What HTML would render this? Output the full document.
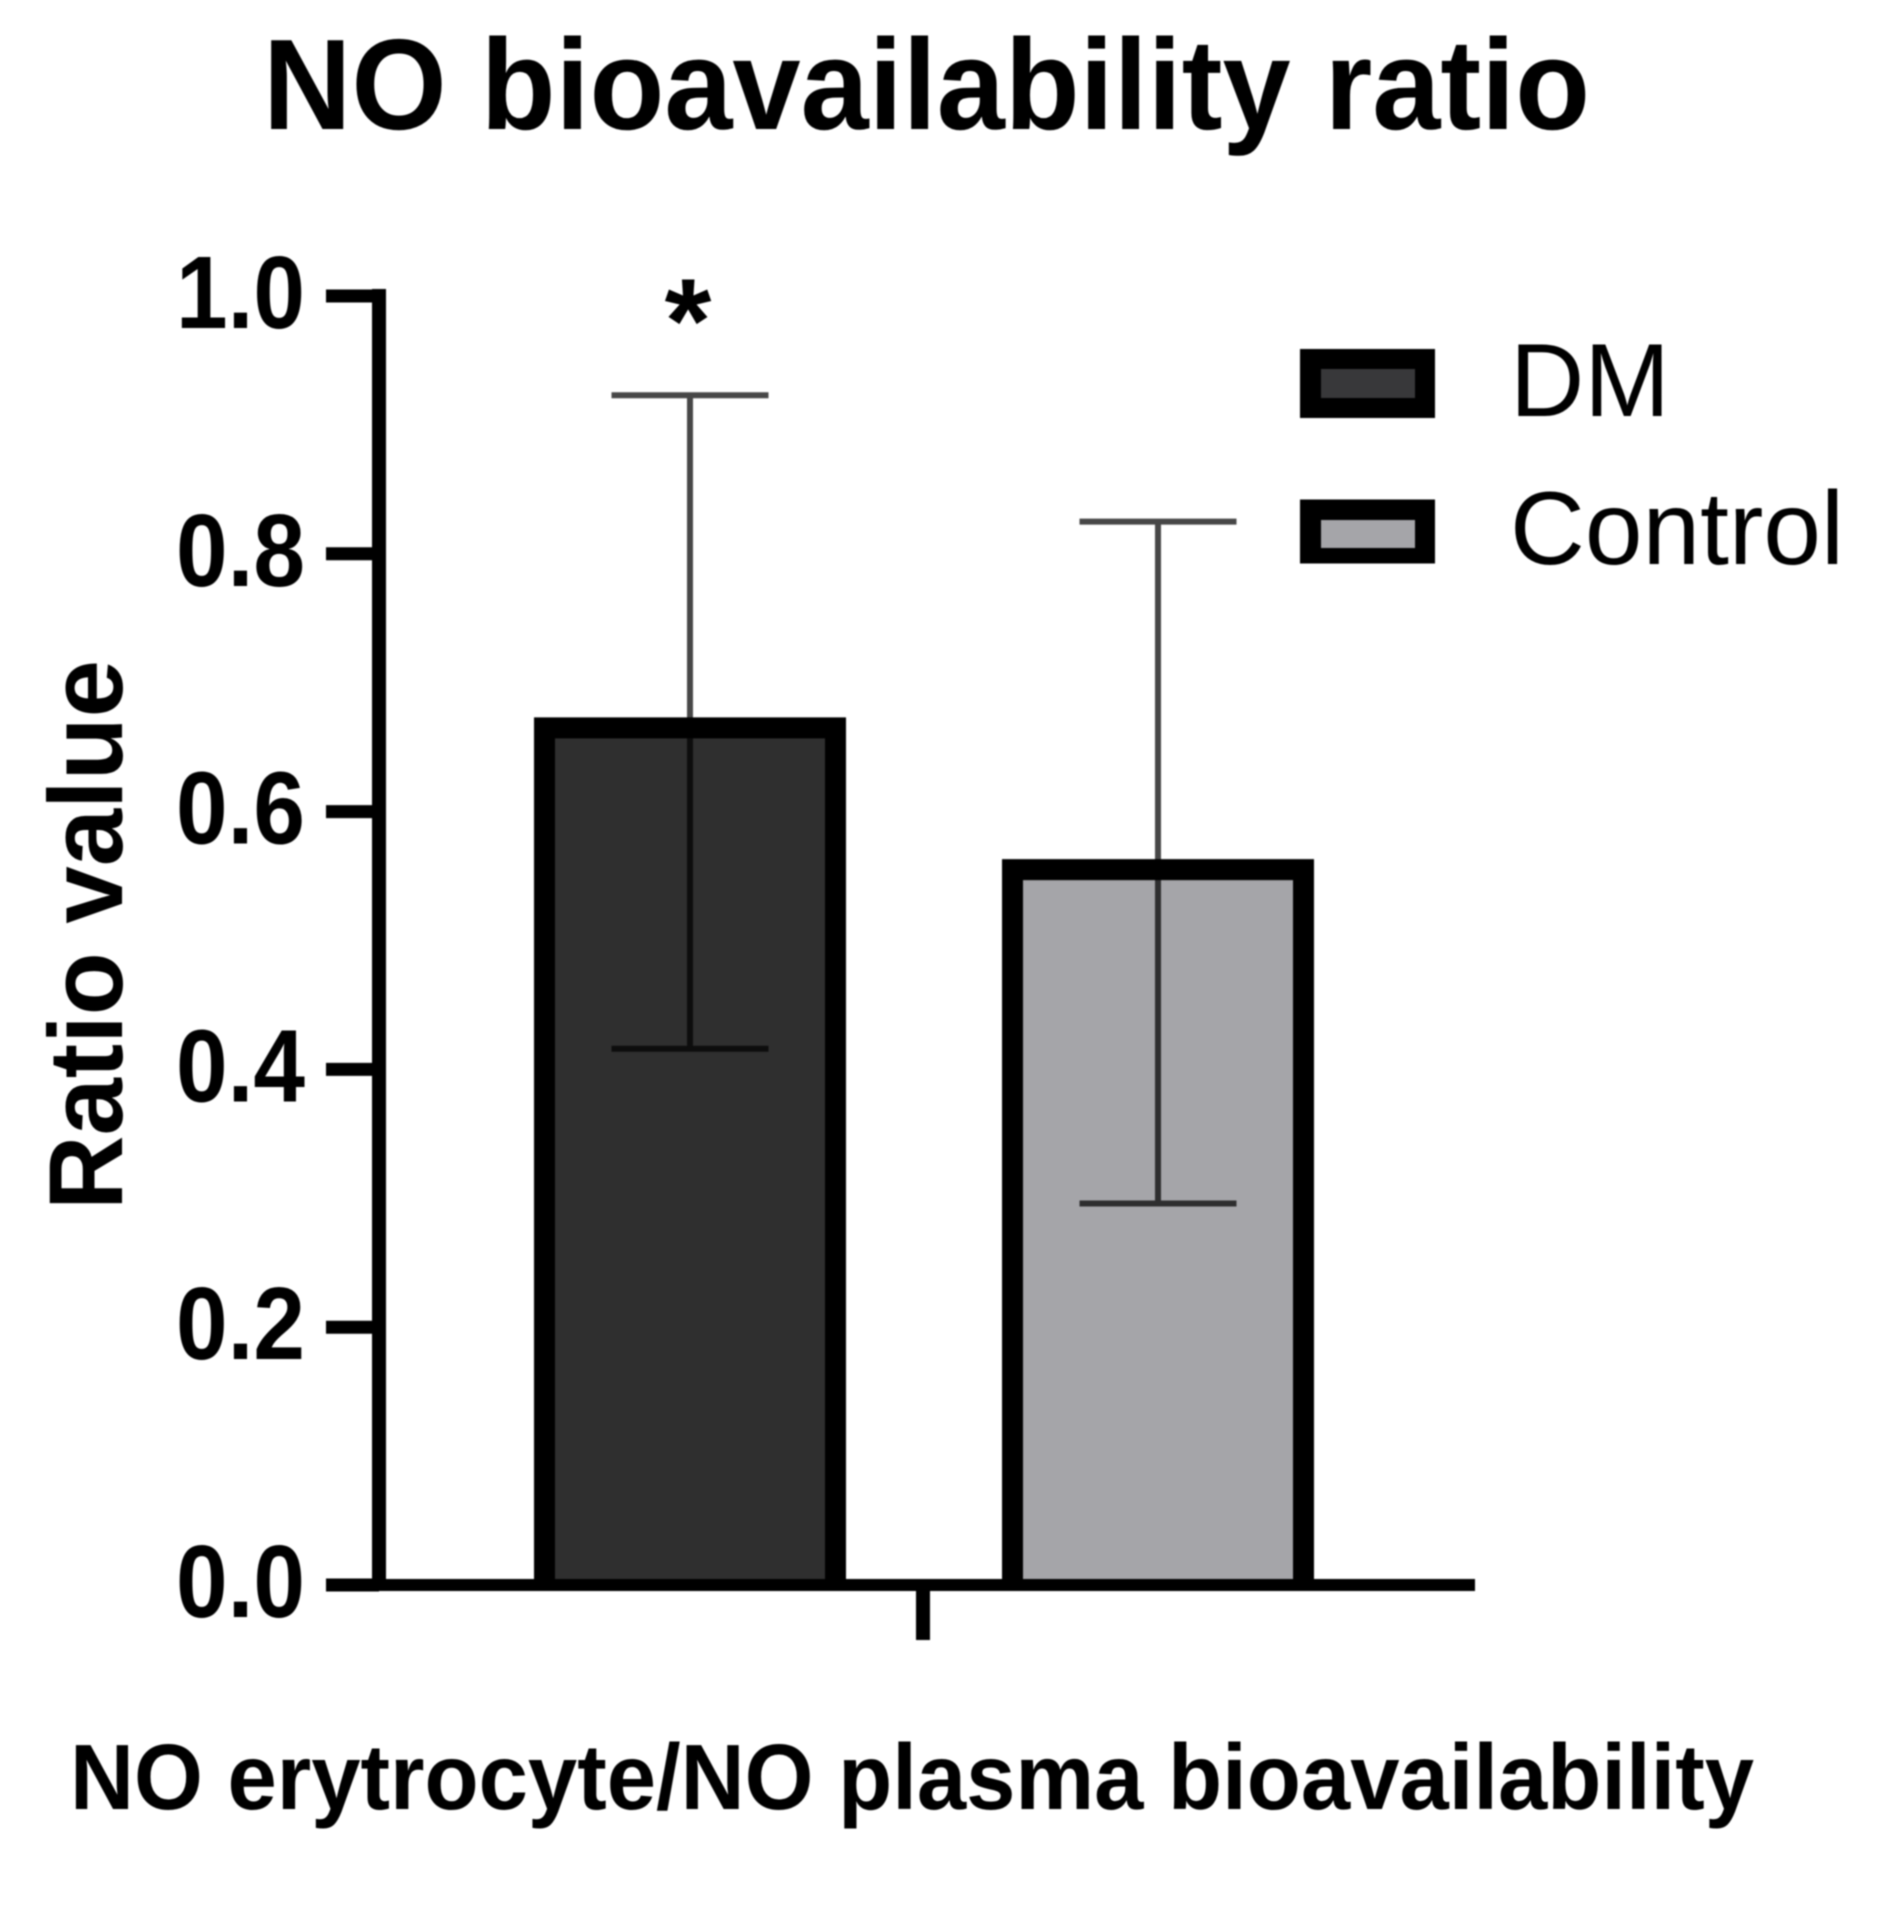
<!DOCTYPE html>
<html lang="en">
<head>
<meta charset="utf-8">
<title>NO bioavailability ratio</title>
<style>
  html, body { margin: 0; padding: 0; background: #fff; }
  svg { display: block; filter: blur(0.8px); }
  text { font-family: "Liberation Sans", sans-serif; fill: #000; }
  .b { font-weight: 700; }
</style>
</head>
<body>
<svg id="chart" xmlns="http://www.w3.org/2000/svg" width="1877" height="1921" viewBox="0 0 1877 1921">
  <rect x="0" y="0" width="1877" height="1921" fill="#ffffff"/>
  <text class="b" x="263" y="129" font-size="129" textLength="1327" lengthAdjust="spacingAndGlyphs">NO bioavailability ratio</text>
  <text class="b" transform="translate(122,1210) rotate(-90)" x="0" y="0" font-size="105" textLength="550" lengthAdjust="spacingAndGlyphs">Ratio value</text>
  <text class="b" x="70" y="1809" font-size="93" textLength="1684" lengthAdjust="spacingAndGlyphs">NO erytrocyte/NO plasma bioavailability</text>
  <text class="b" x="688" y="362" font-size="120" text-anchor="middle">*</text>
  <g id="bars"></g>
  <g id="axes"></g>
  <g id="errors"></g>
  <g>
    <g>
      <rect x="1300" y="349" width="135" height="69" fill="#000"/>
      <rect x="1321" y="369" width="94" height="29" fill="#38383a"/>
      <text x="1510" y="416" font-size="104" textLength="160" lengthAdjust="spacingAndGlyphs">DM</text>
    </g>
    <g>
      <rect x="1300" y="499.5" width="135" height="64" fill="#000"/>
      <rect x="1321" y="520" width="94" height="28" fill="#a5a5a9"/>
      <text x="1510" y="564" font-size="104" textLength="334" lengthAdjust="spacingAndGlyphs">Control</text>
    </g>
  </g>
</svg>
<script>
const categories = ["DM", "Control"];
const means = [0.665, 0.555];
const errorUpper = [0.923, 0.825];
const errorLower = [0.416, 0.296];
const barFills = ["#2f2f2f", "#a5a5a9"];
const tickValues = [0, 0.2, 0.4, 0.6, 0.8, 1];
const tickLabels = ["0.0", "0.2", "0.4", "0.6", "0.8", "1.0"];

const NS = "http://www.w3.org/2000/svg";
const Y0 = 1585, YSPAN = 1289;
const X0 = 690, XSTEP = 468, BAR_W = 291, CAP_W = 157;
function yScale(v) { return Y0 - v * YSPAN; }
function xScale(i) { return X0 + i * XSTEP; }
function make(tag, attrs) {
  const el = document.createElementNS(NS, tag);
  for (const k in attrs) el.setAttribute(k, attrs[k]);
  return el;
}

const barsG = document.getElementById("bars");
const errG = document.getElementById("errors");
const axesG = document.getElementById("axes");

categories.forEach(function (cat, i) {
  const cx = xScale(i);
  const top = yScale(means[i]);
  const left = cx - BAR_W / 2;
  const right = cx + BAR_W / 2;
  const bar = make("path", {
    d: "M" + left + " " + Y0 + "V" + top + "H" + right + "V" + Y0,
    fill: barFills[i], stroke: "#000", "stroke-width": 21
  });
  
  
  barsG.appendChild(bar);

  const yu = yScale(errorUpper[i]);
  const yl = yScale(errorLower[i]);
  const d = "M" + (cx - CAP_W / 2) + " " + yu + "H" + (cx + CAP_W / 2) +
            "M" + cx + " " + yu + "V" + yl +
            "M" + (cx - CAP_W / 2) + " " + yl + "H" + (cx + CAP_W / 2);
  const err = make("path", { d: d, fill: "none", stroke: "rgba(0,0,0,0.72)", "stroke-width": 6 });
  
  
  errG.appendChild(err);
});

const yLine = make("line", { x1: 379, x2: 379, y1: yScale(1) - 7, y2: Y0 + 6, stroke: "#000", "stroke-width": 14 });


axesG.appendChild(yLine);

const xLine = make("line", { x1: 326, x2: 1475, y1: Y0, y2: Y0, stroke: "#000", "stroke-width": 12 });


axesG.appendChild(xLine);

const xTick = make("line", { x1: 923, x2: 923, y1: Y0, y2: 1640, stroke: "#000", "stroke-width": 14 });


axesG.appendChild(xTick);

tickValues.forEach(function (v, i) {
  const y = yScale(v);
  const tick = make("line", { x1: 326, x2: 379, y1: y, y2: y, stroke: "#000", "stroke-width": 13 });
  
  
  axesG.appendChild(tick);

  const label = make("text", { x: 176, y: y + 32, "font-size": 103, "font-weight": 700, textLength: 129, lengthAdjust: "spacingAndGlyphs" });
  label.textContent = tickLabels[i];
  
  
  axesG.appendChild(label);
});
</script>
</body>
</html>
